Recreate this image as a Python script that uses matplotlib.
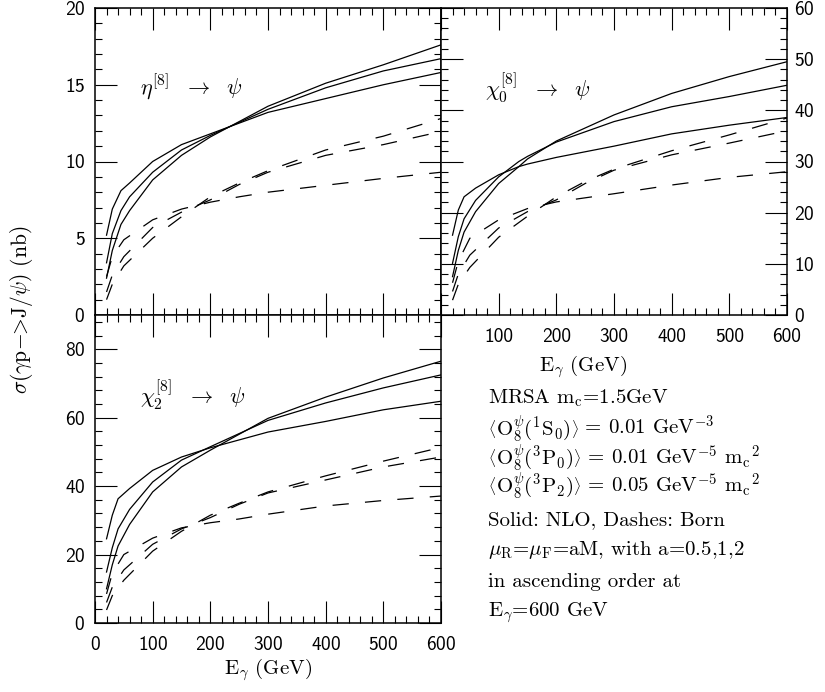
import matplotlib.pyplot as plt
from matplotlib.ticker import MultipleLocator, FuncFormatter

plt.rcParams['font.family'] = 'cmss10'
plt.rcParams['mathtext.fontset'] = 'cm'
plt.rcParams['axes.formatter.use_mathtext'] = True
plt.rcParams['axes.linewidth'] = 1.1

# ---- данные ----
# eta^[8] -> psi
e_eta_nlo = [20, 30, 45, 60, 100, 150, 200, 300, 400, 500, 600]
eta_nlo_a05 = [5.2, 6.9, 8.1, 8.6, 10.0, 11.1, 11.8, 13.2, 14.1, 15.0, 15.8]
eta_nlo_a1 = [3.4, 5.3, 6.8, 7.7, 9.3, 10.75, 11.7, 13.4, 14.8, 15.9, 16.7]
eta_nlo_a2 = [2.4, 4.2, 5.9, 6.8, 8.8, 10.4, 11.6, 13.6, 15.1, 16.3, 17.6]

e_eta_born = [20, 30, 50, 100, 150, 200, 250, 300, 400, 500, 600]
eta_born_a05 = [2.5, 3.8, 4.9, 6.2, 6.9, 7.35, 7.7, 8.0, 8.45, 8.9, 9.3]
eta_born_a1 = [1.5, 2.6, 3.8, 5.7, 6.7, 7.5, 8.5, 9.3, 10.4, 11.1, 11.95]
eta_born_a2 = [1.0, 2.0, 3.2, 5.0, 6.4, 7.7, 8.6, 9.4, 10.75, 11.65, 12.8]

# chi_0^[8] -> psi
e_chi0_nlo = [20, 30, 40, 60, 100, 135, 150, 200, 300, 400, 500, 600]
chi0_nlo_a05 = [15.6, 20.5, 23.1, 24.8, 27.4, 29.0, 29.5, 30.8, 33.0, 35.4, 37.1, 38.6]
chi0_nlo_a1 = [10.1, 15.3, 18.8, 22.4, 27.0, 30.0, 31.0, 33.8, 37.8, 40.7, 42.7, 44.9]
chi0_nlo_a2 = [7.5, 12.6, 16.2, 20.2, 25.7, 29.0, 30.5, 34.0, 39.1, 43.3, 46.6, 49.5]

e_chi0_born = [20, 30, 50, 100, 150, 200, 250, 300, 400, 500, 600]
chi0_born_a05 = [6.3, 10.5, 15.0, 18.6, 20.8, 22.1, 22.9, 23.7, 25.4, 26.9, 28.0]
chi0_born_a1 = [4.6, 8.0, 11.7, 17.0, 20.2, 22.5, 25.7, 28.3, 31.3, 33.6, 36.0]
chi0_born_a2 = [2.9, 6.0, 9.3, 15.2, 19.3, 23.1, 26.1, 28.5, 32.1, 35.2, 38.5]

# chi_2^[8] -> psi
e_chi2_nlo = [20, 30, 40, 60, 100, 150, 200, 300, 400, 500, 600]
chi2_nlo_a05 = [24.6, 31.5, 36.3, 39.3, 44.6, 48.5, 51.2, 55.8, 58.9, 62.3, 64.8]
chi2_nlo_a1 = [14.9, 22.0, 27.5, 33.2, 41.2, 47.6, 51.5, 59.2, 64.3, 68.7, 72.5]
chi2_nlo_a2 = [10.0, 17.0, 22.5, 28.8, 38.3, 45.6, 50.5, 59.8, 66.0, 71.6, 76.5]

e_chi2_born = [20, 30, 50, 100, 150, 200, 250, 300, 400, 500, 600]
chi2_born_a05 = [8.5, 14.5, 20.0, 24.8, 27.8, 29.3, 30.4, 31.8, 34.2, 35.8, 37.1]
chi2_born_a1 = [6.0, 10.5, 15.5, 23.0, 27.5, 30.8, 34.7, 38.0, 41.8, 45.6, 48.5]
chi2_born_a2 = [3.8, 8.0, 12.5, 21.0, 26.8, 31.5, 35.0, 38.3, 43.0, 47.3, 51.3]

W, H = 825, 692
fig = plt.figure(figsize=(W / 100, H / 100), dpi=100)
renderer = fig.canvas.get_renderer()


def px_box(x0, y0, x1, y1):
    return [x0 / W, 1 - y1 / H, (x1 - x0) / W, (y1 - y0) / H]


ax_eta = fig.add_axes(px_box(95, 8, 441, 315))
ax_chi0 = fig.add_axes(px_box(441, 8, 787, 315))
ax_chi2 = fig.add_axes(px_box(95, 315, 441, 623))

panels = [
    (ax_eta, e_eta_nlo, [eta_nlo_a05, eta_nlo_a1, eta_nlo_a2],
     e_eta_born, [eta_born_a05, eta_born_a1, eta_born_a2], 20, 5, 1),
    (ax_chi0, e_chi0_nlo, [chi0_nlo_a05, chi0_nlo_a1, chi0_nlo_a2],
     e_chi0_born, [chi0_born_a05, chi0_born_a1, chi0_born_a2], 60, 10, 2),
    (ax_chi2, e_chi2_nlo, [chi2_nlo_a05, chi2_nlo_a1, chi2_nlo_a2],
     e_chi2_born, [chi2_born_a05, chi2_born_a1, chi2_born_a2], 90, 20, 4),
]

for ax, e_nlo, nlo, e_born, born, ymax, ymaj, ymin in panels:
    for y in nlo:
        ax.plot(e_nlo, y, color='k', lw=0.9)
    for y in born:
        ax.plot(e_born, y, color='k', lw=0.9, dashes=(13, 13))
    ax.set_xlim(0, 600)
    ax.set_ylim(0, ymax)
    ax.xaxis.set_major_locator(MultipleLocator(100))
    ax.xaxis.set_minor_locator(MultipleLocator(20))
    ax.yaxis.set_major_locator(MultipleLocator(ymaj))
    ax.yaxis.set_minor_locator(MultipleLocator(ymin))
    ax.tick_params(which='both', direction='in', top=True, right=True,
                   labelsize=14, width=0.8)
    ax.tick_params(which='major', length=16)
    ax.tick_params(which='minor', length=5)
    ax.tick_params(axis='x', pad=9)
    ax.tick_params(axis='y', pad=7)

ax_eta.tick_params(labelbottom=False)
ax_chi0.tick_params(labelleft=False, labelright=True)
ax_chi0.tick_params(axis='y', pad=5)
ax_chi0.xaxis.set_major_formatter(FuncFormatter(lambda v, p: '' if v == 0 else '%d' % v))

# подписи панелей
ax_eta.text(78, 14.9, r'$\eta^{[8]}\ \ \rightarrow\ \ \psi$', fontsize=16, va='center')
ax_chi0.text(76, 44.4, r'$\chi_0^{[8]}\ \ \rightarrow\ \ \psi$', fontsize=16, va='center')
ax_chi2.text(78, 66.4, r'$\chi_2^{[8]}\ \ \rightarrow\ \ \psi$', fontsize=16, va='center')

# подписи осей
fig.text(268 / W, 1 - 670 / H, r'E$_\gamma$ (GeV)', family='cmr10', fontsize=15,
         ha='center', va='center')
fig.text(583 / W, 1 - 367 / H, r'E$_\gamma$ (GeV)', family='cmr10', fontsize=15,
         ha='center', va='center')
fig.text(22 / W, 1 - 310 / H, r'$\sigma(\gamma{\rm p}\!-\!\!\!>\!{\rm J}/\psi)$ (nb)',
         family='cmr10', fontsize=15.5, rotation=90, ha='center', va='center')


# пояснения: строка из кусков, скобки <> чуть меньше основного текста
def text_line(x_px, y_px, pieces):
    x = x_px / W
    for s, size in pieces:
        t = fig.text(x, 1 - y_px / H, s, family='cmr10', fontsize=size, va='baseline')
        x += t.get_window_extent(renderer).width / W


fs = 15
text_line(488, 403, [(r'MRSA m$_{\rm c}$=1.5GeV', fs)])
text_line(488, 435, [(r'$\langle$', 11), (r'O$_8^\psi$($^1$S$_0$)', fs),
                     (r'$\rangle$', 11), (r' = 0.01 GeV$^{-3}$', fs)])
text_line(488, 464, [(r'$\langle$', 11), (r'O$_8^\psi$($^3$P$_0$)', fs),
                     (r'$\rangle$', 11), (r' = 0.01 GeV$^{-5}$ m$_{\rm c}{}^2$', fs)])
text_line(488, 492, [(r'$\langle$', 11), (r'O$_8^\psi$($^3$P$_2$)', fs),
                     (r'$\rangle$', 11), (r' = 0.05 GeV$^{-5}$ m$_{\rm c}{}^2$', fs)])
text_line(488, 525, [('Solid: NLO, Dashes: Born', fs)])
text_line(488, 555, [(r'$\mu_{\rm R}$=$\mu_{\rm F}$=aM, with a=0.5,1,2', fs)])
text_line(488, 587, [('in ascending order at', fs)])
text_line(488, 616, [(r'E$_\gamma$=600 GeV', fs)])

fig.savefig('out.png', dpi=100)
